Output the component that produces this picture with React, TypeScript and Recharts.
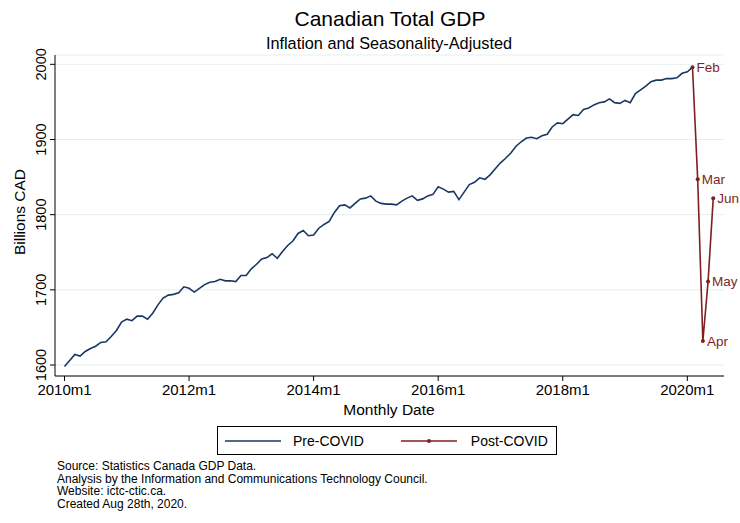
import { LineChart, Line, XAxis, YAxis, CartesianGrid, LabelList } from "recharts";

// monthly GDP, billions CAD, 2010m1 .. 2020m2
const preCovid = [
  1598, 1606, 1614, 1612, 1618, 1622, 1625, 1630, 1631, 1638, 1646, 1657,
  1661, 1659, 1665, 1665, 1661, 1669, 1680, 1689, 1693, 1694, 1696, 1704,
  1702, 1697, 1702, 1707, 1710, 1711, 1714, 1712, 1712, 1711, 1719, 1719,
  1728, 1734, 1741, 1743, 1748, 1742, 1751, 1759, 1765, 1775, 1779, 1772,
  1773, 1782, 1787, 1791, 1803, 1812, 1813, 1809, 1815, 1821, 1822, 1825,
  1818, 1815, 1814, 1814, 1813, 1818, 1822, 1825, 1819, 1821, 1825, 1827,
  1837, 1834, 1830, 1831, 1820, 1830, 1840, 1843, 1849, 1847, 1853, 1861,
  1869, 1875, 1882, 1891, 1897, 1902, 1903, 1901, 1905, 1907, 1917, 1922,
  1921, 1927, 1933, 1932, 1940, 1942, 1946, 1949, 1950, 1954, 1949, 1948,
  1952, 1949, 1961, 1966, 1971, 1977, 1979, 1979, 1981, 1981, 1982, 1988,
  1990, 1996,
];
// 2020m2 .. 2020m6
const postCovid = [1996, 1847, 1632, 1711, 1822];
const postMonths = ["Feb", "Mar", "Apr", "May", "Jun"];

const xTicks = [0, 24, 48, 72, 96, 120];
const yTicks = [1600, 1700, 1800, 1900, 2000];
const notes = [
  "Source: Statistics Canada GDP Data.",
  "Analysis by the Information and Communications Technology Council.",
  "Website: ictc-ctic.ca.",
  "Created Aug 28th, 2020.",
];

const NAVY = "#1a3665";
const MAROON = "#7f1f22";
const FONT = '"Liberation Sans", Arial, sans-serif';

const postStart = preCovid.length - 1;
const data = Array.from({ length: postStart + postCovid.length }, (_, t) => ({
  t,
  pre: t < preCovid.length ? preCovid[t] : null,
  post: t >= postStart ? postCovid[t - postStart] : null,
  label: t >= postStart ? postMonths[t - postStart] : null,
}));

const monthLabel = (t: number) => `${2010 + Math.floor(t / 12)}m${(t % 12) + 1}`;

const YTick = ({ x, y, payload }: any) => (
  <text
    x={x}
    y={y}
    transform={`rotate(-90 ${x} ${y})`}
    textAnchor="middle"
    fontSize={14.5}
    fontFamily={FONT}
    fill="#000"
  >
    {payload.value}
  </text>
);

const PointLabel = ({ x, y, value }: any) =>
  value ? (
    <text x={x + 4} y={y} dy="0.36em" fontSize={13.5} fontFamily={FONT} fill={MAROON}>
      {value}
    </text>
  ) : null;

export default function App() {
  return (
    <div
      style={{
        position: "absolute",
        left: 0,
        top: 0,
        width: 740,
        height: 523,
        background: "#fff",
        fontFamily: FONT,
        color: "#000",
      }}
    >
      <div style={{ position: "absolute", top: 7, left: 0, width: 780, textAlign: "center", fontSize: 21 }}>
        Canadian Total GDP
      </div>
      <div style={{ position: "absolute", top: 34, left: 0, width: 778, textAlign: "center", fontSize: 16.3 }}>
        Inflation and Seasonality-Adjusted
      </div>
      <div
        style={{
          position: "absolute",
          left: 20,
          top: 212,
          transform: "translate(-50%, -50%) rotate(-90deg)",
          fontSize: 15.5,
          whiteSpace: "nowrap",
        }}
      >
        Billions CAD
      </div>
      <div style={{ position: "absolute", top: 401, left: 0, width: 778, textAlign: "center", fontSize: 15.5 }}>
        Monthly Date
      </div>

      <LineChart
        width={740}
        height={523}
        data={data}
        margin={{ top: 55, right: 16, left: 0, bottom: 107 }}
      >
        <CartesianGrid horizontal vertical={false} stroke="#e4eef1" strokeWidth={1} />
        <XAxis
          dataKey="t"
          type="number"
          domain={[-1.83, 127.07]}
          allowDataOverflow
          ticks={xTicks}
          tickFormatter={monthLabel}
          height={40}
          tickSize={5}
          tickMargin={3}
          stroke="#000"
          tick={{ fill: "#000", fontSize: 15, fontFamily: FONT }}
        />
        <YAxis
          type="number"
          domain={[1585.4, 2012.4]}
          allowDataOverflow
          ticks={yTicks}
          width={55}
          tickSize={5}
          tickMargin={4}
          stroke="#000"
          tick={<YTick />}
        />
        <Line
          dataKey="pre"
          stroke={NAVY}
          strokeWidth={1.6}
          dot={false}
          isAnimationActive={false}
        />
        <Line
          dataKey="post"
          stroke={MAROON}
          strokeWidth={1.6}
          dot={{ r: 2, fill: MAROON, stroke: MAROON, strokeWidth: 0 }}
          isAnimationActive={false}
        >
          <LabelList dataKey="label" content={<PointLabel />} />
        </Line>
      </LineChart>

      <div
        style={{
          position: "absolute",
          left: 217,
          top: 426,
          width: 338,
          height: 27,
          border: "1px solid #000",
          display: "flex",
          alignItems: "center",
          fontSize: 14,
          whiteSpace: "nowrap",
        }}
      >
        <svg width={56} height={10} style={{ marginLeft: 7, flexShrink: 0 }}>
          <line x1={0} y1={5} x2={56} y2={5} stroke={NAVY} strokeWidth={1.6} />
        </svg>
        <span style={{ marginLeft: 12 }}>Pre-COVID</span>
        <svg width={56} height={10} style={{ marginLeft: 37, flexShrink: 0 }}>
          <line x1={0} y1={5} x2={56} y2={5} stroke={MAROON} strokeWidth={1.6} />
          <circle cx={28} cy={5} r={2} fill={MAROON} />
        </svg>
        <span style={{ marginLeft: 14 }}>Post-COVID</span>
      </div>

      <div style={{ position: "absolute", left: 57, top: 460, fontSize: 12, lineHeight: "12.6px" }}>
        {notes.map((n) => (
          <div key={n}>{n}</div>
        ))}
      </div>
    </div>
  );
}
